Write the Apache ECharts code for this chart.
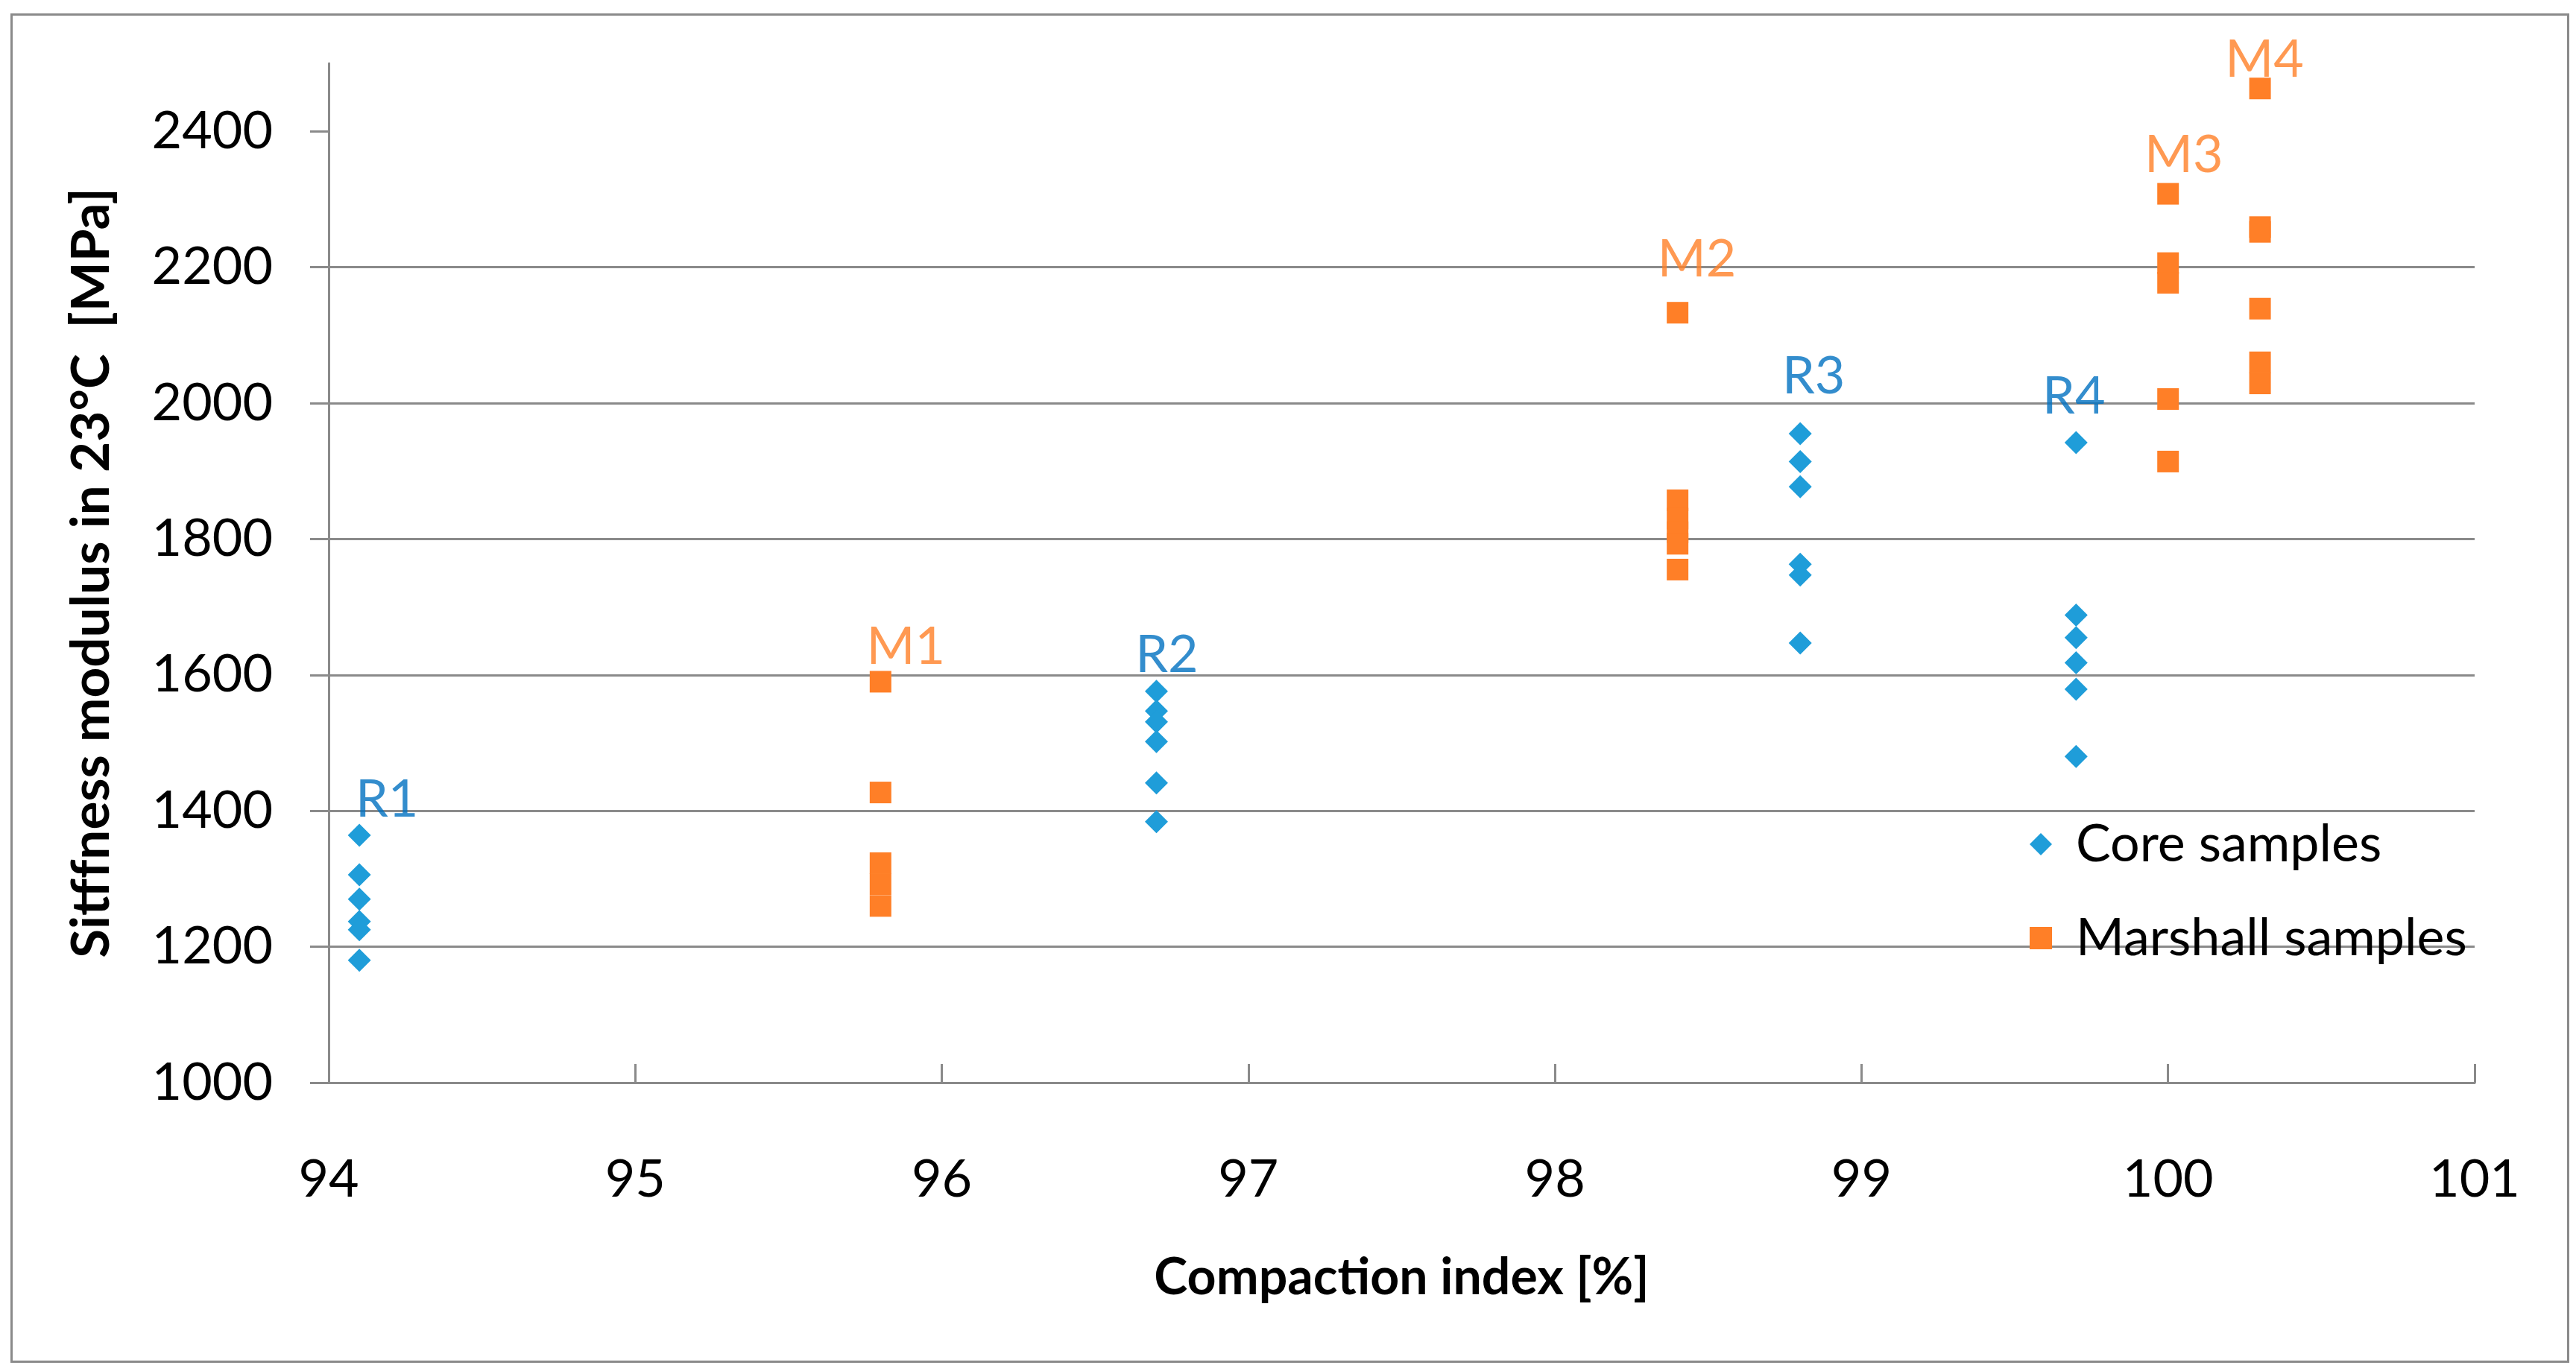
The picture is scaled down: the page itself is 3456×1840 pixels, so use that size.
<!DOCTYPE html>
<html>
<head>
<meta charset="utf-8">
<script src="https://cdn.jsdelivr.net/npm/echarts@6/dist/echarts.min.js"></script>
<style>
html,body{margin:0;padding:0;background:#fff;}
#chart{width:3456px;height:1840px;}
</style>
</head>
<body>
<div id="chart"></div>
<script>
// ---- data ----
const coreNames = ['R1', 'R2', 'R3', 'R4'];
const coreX = [94.1, 96.7, 98.8, 99.7];
const coreR1 = [1364, 1306, 1270, 1237, 1225, 1180];
const coreR2 = [1576, 1547, 1531, 1502, 1441, 1384];
const coreR3 = [1955, 1914, 1877, 1763, 1747, 1647];
const coreR4 = [1942, 1688, 1655, 1618, 1579, 1480];

const marshallNames = ['M1', 'M2', 'M3', 'M4'];
const marshallX = [95.8, 98.4, 100.0, 100.3];
const marshM1 = [1590, 1427, 1323, 1292, 1260];
const marshM2 = [2133, 1857, 1830, 1810, 1793, 1755];
const marshM3 = [2308, 2206, 2177, 2006, 1914];
const marshM4 = [2463, 2259, 2252, 2139, 2060, 2029];

const seriesNames = ['Core samples', 'Marshall samples'];
const xTitle = 'Compaction index [%]';
const yTitle = 'Sitffness modulus in 23°C  [MPa]';
const yTicks = [1000, 1200, 1400, 1600, 1800, 2000, 2200, 2400];

// ---- styling (label offsets in px, not data) ----
const labelOffsets = {
  R1: [37, -48], R2: [14, -48], R3: [18, -77], R4: [-3, -61],
  M1: [34, -46], M2: [26, -71], M3: [21, -52], M4: [6, -38]
};
const FONT = 'Lato';
const GRAY = '#8a8a8a';
const BLUE = '#1f9dd9';
const BLUE_LBL = '#0070c0';
const ORANGE = '#ff7f27';

const coreGroups = [coreR1, coreR2, coreR3, coreR4];
const marshGroups = [marshM1, marshM2, marshM3, marshM4];

function pairs(xs, groups) {
  const out = [];
  groups.forEach((g, i) => g.forEach(v => out.push([xs[i], v])));
  return out;
}
function labelItems(xs, groups, names, color) {
  return groups.map((g, i) => ({
    name: names[i],
    value: [xs[i], Math.max.apply(null, g)],
    label: {
      show: true, formatter: names[i], color: color,
      offset: labelOffsets[names[i]]
    }
  }));
}

const chart = echarts.init(document.getElementById('chart'));
chart.setOption({
  animation: false,
  backgroundColor: '#fff',
  textStyle: { fontFamily: FONT },
  graphic: [{
    type: 'rect', left: 13, top: 17,
    shape: { width: 3430, height: 1808 },
    style: { fill: 'none', stroke: GRAY, lineWidth: 3 }, z: -1
  }],
  grid: { left: 441, top: 85, width: 2879, height: 1368, containLabel: false },
  legend: {
    data: seriesNames.map((n, i) => ({ name: n, icon: i === 0 ? 'diamond' : 'rect' })),
    orient: 'vertical',
    left: 2718, top: 1093,
    itemWidth: 30, itemHeight: 30, itemGap: 56,
    textStyle: { fontFamily: FONT, fontSize: 70, color: '#000', lineHeight: 70, padding: [0, 0, 0, 27] }
  },
  xAxis: {
    type: 'value', min: 94, max: 101, interval: 1,
    name: xTitle, nameLocation: 'middle', nameGap: 228,
    nameTextStyle: { fontFamily: FONT, fontWeight: 'bold', fontSize: 68, color: '#000' },
    axisLine: { show: true, onZero: false, lineStyle: { color: GRAY, width: 3 } },
    axisTick: { show: true, inside: true, length: 25, lineStyle: { color: GRAY, width: 3 } },
    axisLabel: { fontFamily: FONT, fontSize: 70, color: '#000', margin: 95 },
    splitLine: { show: false }
  },
  yAxis: {
    type: 'value', min: 1000, max: 2500, interval: 200,
    name: yTitle, nameLocation: 'middle', nameGap: 282, nameRotate: 90,
    nameTextStyle: { fontFamily: FONT, fontWeight: 'bold', fontSize: 71, color: '#000' },
    axisLine: { show: true, lineStyle: { color: GRAY, width: 3 } },
    axisTick: { show: true, length: 25, customValues: yTicks, lineStyle: { color: GRAY, width: 3 } },
    axisLabel: { fontFamily: FONT, fontSize: 70, color: '#000', margin: 75, customValues: yTicks,
                 formatter: v => String(v) },
    splitLine: { show: true, showMaxLine: false, lineStyle: { color: GRAY, width: 3 } }
  },
  series: [
    {
      name: seriesNames[0], type: 'scatter', symbol: 'diamond', symbolSize: 31,
      itemStyle: { color: BLUE, opacity: 1 }, data: pairs(coreX, coreGroups), z: 3
    },
    {
      name: seriesNames[1], type: 'scatter', symbol: 'rect', symbolSize: 29,
      itemStyle: { color: ORANGE, opacity: 1 }, data: pairs(marshallX, marshGroups), z: 3
    },
    {
      name: 'groupLabels', type: 'scatter', symbolSize: 1, silent: true,
      itemStyle: { color: 'rgba(0,0,0,0)' },
      label: { show: true, position: 'inside', align: 'center', verticalAlign: 'middle',
               fontFamily: FONT, fontSize: 70 },
      data: labelItems(coreX, coreGroups, coreNames, BLUE_LBL)
        .concat(labelItems(marshallX, marshGroups, marshallNames, ORANGE)),
      z: 4
    }
  ]
});
</script>
</body>
</html>
